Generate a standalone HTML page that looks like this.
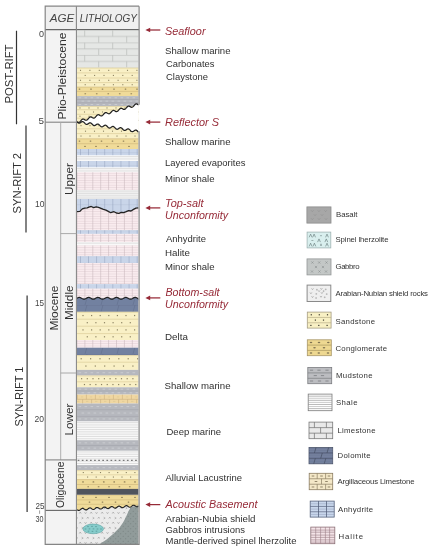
<!DOCTYPE html>
<html><head><meta charset="utf-8"><style>
html,body{margin:0;padding:0;background:#fff;overflow:hidden}
svg{display:block;will-change:transform}
text{font-family:"Liberation Sans",sans-serif}
</style></head><body>
<svg width="431" height="550" viewBox="0 0 431 550">
<defs>
<pattern id="lime" patternUnits="userSpaceOnUse" x="56.2" y="29.9" width="28" height="12.5">
 <rect width="28" height="12.5" fill="#e5e7e5"/>
 <path d="M0 0.3H28M0 6.55H28M0.5 0.3V6.55M14.5 6.55V12.5" stroke="#b9bbb9" stroke-width="0.7" fill="none"/>
</pattern>
<pattern id="anh" patternUnits="userSpaceOnUse" x="80" y="0" width="8.1" height="6.5">
 <rect width="8.1" height="6.5" fill="#c9d5e9"/>
 <path d="M0.3 0V6.5" stroke="#8e9cb8" stroke-width="0.6"/>
 <path d="M0 3.25H8.1" stroke="#8e9cb8" stroke-width="0.3" opacity="0.6"/>
</pattern>
<pattern id="hal" patternUnits="userSpaceOnUse" x="76.5" y="0" width="7.9" height="2.4">
 <rect width="7.9" height="2.4" fill="#f9ebee"/>
 <path d="M0 0.3H7.9" stroke="#dcc9ce" stroke-width="0.5"/>
 <path d="M0.3 0V2.4" stroke="#c6b3b9" stroke-width="0.6"/>
</pattern>
<pattern id="dol" patternUnits="userSpaceOnUse" x="77" y="298" width="16" height="7">
 <rect width="16" height="7" fill="#7281a0"/>
 <path d="M0 0.2H16" stroke="#5f6b88" stroke-width="0.4"/>
 <path d="M10 0L8 7" stroke="#5f6b88" stroke-width="0.5"/>
</pattern>
<pattern id="base" patternUnits="userSpaceOnUse" x="78" y="511" width="11" height="10">
 <rect width="11" height="10" fill="#ebebeb"/>
 <path d="M1.2 2.6l1-1.6l1 1.6M6.5 1.2l1 1.5l1-1.5M3.6 6.2l1.6 0.9l-1.6 0.9M8.8 7.6l1-1.6l1 1.6" stroke="#999999" stroke-width="0.6" fill="none"/>
</pattern>
<pattern id="gab" patternUnits="userSpaceOnUse" x="77" y="505" width="5" height="5">
 <rect width="5" height="5" fill="#909b9a"/>
 <circle cx="1.2" cy="1.2" r="0.55" fill="#77817f"/>
 <circle cx="3.7" cy="3.7" r="0.55" fill="#77817f"/>
</pattern>
<clipPath id="litho"><rect x="77.0" y="29.9" width="61.60" height="514.4"/></clipPath>
</defs>
<rect width="431" height="550" fill="#fff"/>

<rect x="45.2" y="6.2" width="93.9" height="23.4" fill="#efefef"/>
<rect x="45.2" y="29.6" width="30.2" height="480.8" fill="#f3f3f3"/>
<rect x="45.2" y="510.4" width="30.2" height="33.9" fill="#f3f3f3"/>
<path d="M45.2 29.6H139.1" stroke="#666" stroke-width="1.2"/>
<path d="M76.4 6.2V544.3" stroke="#858585" stroke-width="1.1"/>
<path d="M45.2 122.2H77" stroke="#858585" stroke-width="1.1"/>
<path d="M60.7 122.2V459.9" stroke="#a8a8a8" stroke-width="0.9"/>
<path d="M60.6 233.6H76.4M60.6 373H76.4" stroke="#a0a0a0" stroke-width="0.9"/>
<path d="M45.2 459.9H76.4" stroke="#858585" stroke-width="1.1"/>
<path d="M45.2 510.4H77" stroke="#666" stroke-width="1.1"/>
<path d="M16.5 30.8V124.3M26.0 125.4V232.6M27.1 295.4V512" stroke="#333" stroke-width="1.2"/><path d="M39.6 510.4V513.8" stroke="#777" stroke-width="0.7"/>
<g clip-path="url(#litho)"><rect x="77.0" y="29.9" width="61.60" height="37.90" fill="url(#lime)"/>
<rect x="77.0" y="67.80" width="61.60" height="19.00" fill="#f9f0c6"/><path d="M77.0 68.10H138.6" stroke="#d6c892" stroke-width="0.6"/><path d="M77.0 72.90H138.6" stroke="#d6c892" stroke-width="0.6"/><path d="M77.0 78.00H138.6" stroke="#d6c892" stroke-width="0.6"/><path d="M77.0 82.60H138.6" stroke="#d6c892" stroke-width="0.6"/><rect x="79.95" y="69.80" width="1.10" height="1.10" fill="#8b8262"/><rect x="89.35" y="69.80" width="1.10" height="1.10" fill="#8b8262"/><rect x="98.75" y="69.80" width="1.10" height="1.10" fill="#8b8262"/><rect x="108.15" y="69.80" width="1.10" height="1.10" fill="#8b8262"/><rect x="117.55" y="69.80" width="1.10" height="1.10" fill="#8b8262"/><rect x="126.95" y="69.80" width="1.10" height="1.10" fill="#8b8262"/><rect x="136.35" y="69.80" width="1.10" height="1.10" fill="#8b8262"/><rect x="84.65" y="74.90" width="1.10" height="1.10" fill="#8b8262"/><rect x="94.05" y="74.90" width="1.10" height="1.10" fill="#8b8262"/><rect x="103.45" y="74.90" width="1.10" height="1.10" fill="#8b8262"/><rect x="112.85" y="74.90" width="1.10" height="1.10" fill="#8b8262"/><rect x="122.25" y="74.90" width="1.10" height="1.10" fill="#8b8262"/><rect x="131.65" y="74.90" width="1.10" height="1.10" fill="#8b8262"/><rect x="79.95" y="79.75" width="1.10" height="1.10" fill="#8b8262"/><rect x="89.35" y="79.75" width="1.10" height="1.10" fill="#8b8262"/><rect x="98.75" y="79.75" width="1.10" height="1.10" fill="#8b8262"/><rect x="108.15" y="79.75" width="1.10" height="1.10" fill="#8b8262"/><rect x="117.55" y="79.75" width="1.10" height="1.10" fill="#8b8262"/><rect x="126.95" y="79.75" width="1.10" height="1.10" fill="#8b8262"/><rect x="136.35" y="79.75" width="1.10" height="1.10" fill="#8b8262"/><rect x="84.65" y="84.15" width="1.10" height="1.10" fill="#8b8262"/><rect x="94.05" y="84.15" width="1.10" height="1.10" fill="#8b8262"/><rect x="103.45" y="84.15" width="1.10" height="1.10" fill="#8b8262"/><rect x="112.85" y="84.15" width="1.10" height="1.10" fill="#8b8262"/><rect x="122.25" y="84.15" width="1.10" height="1.10" fill="#8b8262"/><rect x="131.65" y="84.15" width="1.10" height="1.10" fill="#8b8262"/>
<rect x="77.0" y="86.80" width="61.60" height="9.30" fill="#f0db99"/><path d="M77.0 87.10H138.6" stroke="#cdb678" stroke-width="0.6"/><path d="M77.0 91.40H138.6" stroke="#cdb678" stroke-width="0.6"/><ellipse cx="79.50" cy="89.10" rx="0.95" ry="0.6" fill="#857650"/><ellipse cx="91.00" cy="89.10" rx="0.95" ry="0.6" fill="#857650"/><ellipse cx="102.50" cy="89.10" rx="0.95" ry="0.6" fill="#857650"/><ellipse cx="114.00" cy="89.10" rx="0.95" ry="0.6" fill="#857650"/><ellipse cx="125.50" cy="89.10" rx="0.95" ry="0.6" fill="#857650"/><ellipse cx="137.00" cy="89.10" rx="0.95" ry="0.6" fill="#857650"/><ellipse cx="85.25" cy="93.75" rx="0.95" ry="0.6" fill="#857650"/><ellipse cx="96.75" cy="93.75" rx="0.95" ry="0.6" fill="#857650"/><ellipse cx="108.25" cy="93.75" rx="0.95" ry="0.6" fill="#857650"/><ellipse cx="119.75" cy="93.75" rx="0.95" ry="0.6" fill="#857650"/><ellipse cx="131.25" cy="93.75" rx="0.95" ry="0.6" fill="#857650"/>
<rect x="77.0" y="96.10" width="61.60" height="10.10" fill="#b6b8be"/><path d="M77.0 99.50H138.6" stroke="#a2a4ab" stroke-width="0.6"/><path d="M77.0 102.80H138.6" stroke="#a2a4ab" stroke-width="0.6"/><path d="M78.50 97.80h2.70M84.50 97.80h2.70M90.50 97.80h2.70M96.50 97.80h2.70M102.50 97.80h2.70M108.50 97.80h2.70M114.50 97.80h2.70M120.50 97.80h2.70M126.50 97.80h2.70M132.50 97.80h2.70M138.50 97.80h2.70" stroke="#d3d4d9" stroke-width="0.7"/><path d="M81.50 101.15h2.70M87.50 101.15h2.70M93.50 101.15h2.70M99.50 101.15h2.70M105.50 101.15h2.70M111.50 101.15h2.70M117.50 101.15h2.70M123.50 101.15h2.70M129.50 101.15h2.70M135.50 101.15h2.70" stroke="#d3d4d9" stroke-width="0.7"/><path d="M78.50 104.50h2.70M84.50 104.50h2.70M90.50 104.50h2.70M96.50 104.50h2.70M102.50 104.50h2.70M108.50 104.50h2.70M114.50 104.50h2.70M120.50 104.50h2.70M126.50 104.50h2.70M132.50 104.50h2.70M138.50 104.50h2.70" stroke="#d3d4d9" stroke-width="0.7"/>
<rect x="77.0" y="106.20" width="61.60" height="16.30" fill="#f9f0c6"/><path d="M77.0 106.50H138.6" stroke="#d6c892" stroke-width="0.6"/><path d="M77.0 109.70H138.6" stroke="#d6c892" stroke-width="0.6"/><path d="M77.0 114.30H138.6" stroke="#d6c892" stroke-width="0.6"/><path d="M77.0 118.20H138.6" stroke="#d6c892" stroke-width="0.6"/><rect x="79.45" y="107.40" width="1.10" height="1.10" fill="#8b8262"/><rect x="88.45" y="107.40" width="1.10" height="1.10" fill="#8b8262"/><rect x="97.45" y="107.40" width="1.10" height="1.10" fill="#8b8262"/><rect x="106.45" y="107.40" width="1.10" height="1.10" fill="#8b8262"/><rect x="115.45" y="107.40" width="1.10" height="1.10" fill="#8b8262"/><rect x="124.45" y="107.40" width="1.10" height="1.10" fill="#8b8262"/><rect x="133.45" y="107.40" width="1.10" height="1.10" fill="#8b8262"/><rect x="83.95" y="111.45" width="1.10" height="1.10" fill="#8b8262"/><rect x="92.95" y="111.45" width="1.10" height="1.10" fill="#8b8262"/><rect x="101.95" y="111.45" width="1.10" height="1.10" fill="#8b8262"/><rect x="110.95" y="111.45" width="1.10" height="1.10" fill="#8b8262"/><rect x="119.95" y="111.45" width="1.10" height="1.10" fill="#8b8262"/><rect x="128.95" y="111.45" width="1.10" height="1.10" fill="#8b8262"/><rect x="137.95" y="111.45" width="1.10" height="1.10" fill="#8b8262"/><rect x="79.45" y="115.70" width="1.10" height="1.10" fill="#8b8262"/><rect x="88.45" y="115.70" width="1.10" height="1.10" fill="#8b8262"/><rect x="97.45" y="115.70" width="1.10" height="1.10" fill="#8b8262"/><rect x="106.45" y="115.70" width="1.10" height="1.10" fill="#8b8262"/><rect x="115.45" y="115.70" width="1.10" height="1.10" fill="#8b8262"/><rect x="124.45" y="115.70" width="1.10" height="1.10" fill="#8b8262"/><rect x="133.45" y="115.70" width="1.10" height="1.10" fill="#8b8262"/><rect x="83.95" y="119.80" width="1.10" height="1.10" fill="#8b8262"/><rect x="92.95" y="119.80" width="1.10" height="1.10" fill="#8b8262"/><rect x="101.95" y="119.80" width="1.10" height="1.10" fill="#8b8262"/><rect x="110.95" y="119.80" width="1.10" height="1.10" fill="#8b8262"/><rect x="119.95" y="119.80" width="1.10" height="1.10" fill="#8b8262"/><rect x="128.95" y="119.80" width="1.10" height="1.10" fill="#8b8262"/><rect x="137.95" y="119.80" width="1.10" height="1.10" fill="#8b8262"/>
<rect x="77.0" y="122.50" width="61.60" height="16.00" fill="#f9f0c6"/><path d="M77.0 128.80H138.6" stroke="#d6c892" stroke-width="0.6"/><path d="M77.0 133.60H138.6" stroke="#d6c892" stroke-width="0.6"/><rect x="80.45" y="125.10" width="1.10" height="1.10" fill="#8b8262"/><rect x="89.45" y="125.10" width="1.10" height="1.10" fill="#8b8262"/><rect x="98.45" y="125.10" width="1.10" height="1.10" fill="#8b8262"/><rect x="107.45" y="125.10" width="1.10" height="1.10" fill="#8b8262"/><rect x="116.45" y="125.10" width="1.10" height="1.10" fill="#8b8262"/><rect x="125.45" y="125.10" width="1.10" height="1.10" fill="#8b8262"/><rect x="134.45" y="125.10" width="1.10" height="1.10" fill="#8b8262"/><rect x="84.95" y="130.65" width="1.10" height="1.10" fill="#8b8262"/><rect x="93.95" y="130.65" width="1.10" height="1.10" fill="#8b8262"/><rect x="102.95" y="130.65" width="1.10" height="1.10" fill="#8b8262"/><rect x="111.95" y="130.65" width="1.10" height="1.10" fill="#8b8262"/><rect x="120.95" y="130.65" width="1.10" height="1.10" fill="#8b8262"/><rect x="129.95" y="130.65" width="1.10" height="1.10" fill="#8b8262"/><rect x="80.45" y="135.50" width="1.10" height="1.10" fill="#8b8262"/><rect x="89.45" y="135.50" width="1.10" height="1.10" fill="#8b8262"/><rect x="98.45" y="135.50" width="1.10" height="1.10" fill="#8b8262"/><rect x="107.45" y="135.50" width="1.10" height="1.10" fill="#8b8262"/><rect x="116.45" y="135.50" width="1.10" height="1.10" fill="#8b8262"/><rect x="125.45" y="135.50" width="1.10" height="1.10" fill="#8b8262"/><rect x="134.45" y="135.50" width="1.10" height="1.10" fill="#8b8262"/>
<rect x="77.0" y="138.50" width="61.60" height="10.50" fill="#f0db99"/><path d="M77.0 138.80H138.6" stroke="#cdb678" stroke-width="0.6"/><path d="M77.0 143.70H138.6" stroke="#cdb678" stroke-width="0.6"/><ellipse cx="79.50" cy="141.10" rx="0.95" ry="0.6" fill="#857650"/><ellipse cx="90.50" cy="141.10" rx="0.95" ry="0.6" fill="#857650"/><ellipse cx="101.50" cy="141.10" rx="0.95" ry="0.6" fill="#857650"/><ellipse cx="112.50" cy="141.10" rx="0.95" ry="0.6" fill="#857650"/><ellipse cx="123.50" cy="141.10" rx="0.95" ry="0.6" fill="#857650"/><ellipse cx="134.50" cy="141.10" rx="0.95" ry="0.6" fill="#857650"/><ellipse cx="85.00" cy="146.35" rx="0.95" ry="0.6" fill="#857650"/><ellipse cx="96.00" cy="146.35" rx="0.95" ry="0.6" fill="#857650"/><ellipse cx="107.00" cy="146.35" rx="0.95" ry="0.6" fill="#857650"/><ellipse cx="118.00" cy="146.35" rx="0.95" ry="0.6" fill="#857650"/><ellipse cx="129.00" cy="146.35" rx="0.95" ry="0.6" fill="#857650"/>
<rect x="77.0" y="149.0" width="61.60" height="6.50" fill="url(#anh)"/>
<rect x="77.0" y="155.50" width="61.60" height="5.50" fill="#f9f9f9"/><path d="M77.0 156.65H138.6M77.0 158.95H138.6" stroke="#d7d7d7" stroke-width="0.8"/>
<rect x="77.0" y="161.0" width="61.60" height="6.50" fill="url(#anh)"/>
<rect x="77.0" y="167.50" width="61.60" height="4.70" fill="#f9f9f9"/><path d="M77.0 168.65H138.6M77.0 170.95H138.6" stroke="#d7d7d7" stroke-width="0.8"/>
<rect x="77.0" y="172.2" width="61.60" height="17.80" fill="url(#hal)"/>
<rect x="77.0" y="190.00" width="61.60" height="9.00" fill="#f0f0f0"/><path d="M77.0 191.15H138.6M77.0 193.45H138.6M77.0 195.75H138.6M77.0 198.05H138.6" stroke="#dcdcdc" stroke-width="0.8"/>
<rect x="77.0" y="199.0" width="61.60" height="13.00" fill="url(#anh)"/>
<rect x="77.0" y="212.0" width="61.60" height="18.20" fill="url(#hal)"/>
<rect x="77.0" y="230.2" width="61.60" height="3.70" fill="url(#anh)"/>
<rect x="77.0" y="233.9" width="61.60" height="8.10" fill="url(#hal)"/>
<rect x="77.0" y="242.00" width="61.60" height="3.30" fill="#f9f9f9"/><path d="M77.0 243.15H138.6" stroke="#d7d7d7" stroke-width="0.8"/>
<rect x="77.0" y="245.3" width="61.60" height="10.90" fill="url(#hal)"/>
<rect x="77.0" y="256.2" width="61.60" height="6.80" fill="url(#anh)"/>
<rect x="77.0" y="263.0" width="61.60" height="21.10" fill="url(#hal)"/>
<rect x="77.0" y="284.1" width="61.60" height="4.60" fill="url(#anh)"/>
<rect x="77.0" y="288.7" width="61.60" height="9.80" fill="url(#hal)"/>
<rect x="77.0" y="298.5" width="61.60" height="13.40" fill="url(#dol)"/>
<rect x="77.0" y="311.90" width="61.60" height="28.10" fill="#f9f0c6"/><path d="M77.0 312.20H138.6" stroke="#d6c892" stroke-width="0.6"/><path d="M77.0 319.20H138.6" stroke="#d6c892" stroke-width="0.6"/><path d="M77.0 326.20H138.6" stroke="#d6c892" stroke-width="0.6"/><path d="M77.0 333.60H138.6" stroke="#d6c892" stroke-width="0.6"/><rect x="82.40" y="314.95" width="1.20" height="1.20" fill="#8b8262"/><rect x="91.00" y="314.95" width="1.20" height="1.20" fill="#8b8262"/><rect x="99.60" y="314.95" width="1.20" height="1.20" fill="#8b8262"/><rect x="108.20" y="314.95" width="1.20" height="1.20" fill="#8b8262"/><rect x="116.80" y="314.95" width="1.20" height="1.20" fill="#8b8262"/><rect x="125.40" y="314.95" width="1.20" height="1.20" fill="#8b8262"/><rect x="134.00" y="314.95" width="1.20" height="1.20" fill="#8b8262"/><rect x="86.70" y="322.10" width="1.20" height="1.20" fill="#8b8262"/><rect x="95.30" y="322.10" width="1.20" height="1.20" fill="#8b8262"/><rect x="103.90" y="322.10" width="1.20" height="1.20" fill="#8b8262"/><rect x="112.50" y="322.10" width="1.20" height="1.20" fill="#8b8262"/><rect x="121.10" y="322.10" width="1.20" height="1.20" fill="#8b8262"/><rect x="129.70" y="322.10" width="1.20" height="1.20" fill="#8b8262"/><rect x="82.40" y="329.30" width="1.20" height="1.20" fill="#8b8262"/><rect x="91.00" y="329.30" width="1.20" height="1.20" fill="#8b8262"/><rect x="99.60" y="329.30" width="1.20" height="1.20" fill="#8b8262"/><rect x="108.20" y="329.30" width="1.20" height="1.20" fill="#8b8262"/><rect x="116.80" y="329.30" width="1.20" height="1.20" fill="#8b8262"/><rect x="125.40" y="329.30" width="1.20" height="1.20" fill="#8b8262"/><rect x="134.00" y="329.30" width="1.20" height="1.20" fill="#8b8262"/><rect x="86.70" y="336.20" width="1.20" height="1.20" fill="#8b8262"/><rect x="95.30" y="336.20" width="1.20" height="1.20" fill="#8b8262"/><rect x="103.90" y="336.20" width="1.20" height="1.20" fill="#8b8262"/><rect x="112.50" y="336.20" width="1.20" height="1.20" fill="#8b8262"/><rect x="121.10" y="336.20" width="1.20" height="1.20" fill="#8b8262"/><rect x="129.70" y="336.20" width="1.20" height="1.20" fill="#8b8262"/>
<rect x="77.0" y="340.0" width="61.60" height="7.70" fill="url(#hal)"/>
<rect x="77.0" y="347.7" width="61.60" height="7.60" fill="url(#dol)"/>
<rect x="77.0" y="355.30" width="61.60" height="14.60" fill="#f9f0c6"/><path d="M77.0 355.60H138.6" stroke="#d6c892" stroke-width="0.6"/><path d="M77.0 362.20H138.6" stroke="#d6c892" stroke-width="0.6"/><rect x="80.60" y="358.15" width="1.20" height="1.20" fill="#8b8262"/><rect x="90.00" y="358.15" width="1.20" height="1.20" fill="#8b8262"/><rect x="99.40" y="358.15" width="1.20" height="1.20" fill="#8b8262"/><rect x="108.80" y="358.15" width="1.20" height="1.20" fill="#8b8262"/><rect x="118.20" y="358.15" width="1.20" height="1.20" fill="#8b8262"/><rect x="127.60" y="358.15" width="1.20" height="1.20" fill="#8b8262"/><rect x="137.00" y="358.15" width="1.20" height="1.20" fill="#8b8262"/><rect x="85.30" y="365.45" width="1.20" height="1.20" fill="#8b8262"/><rect x="94.70" y="365.45" width="1.20" height="1.20" fill="#8b8262"/><rect x="104.10" y="365.45" width="1.20" height="1.20" fill="#8b8262"/><rect x="113.50" y="365.45" width="1.20" height="1.20" fill="#8b8262"/><rect x="122.90" y="365.45" width="1.20" height="1.20" fill="#8b8262"/><rect x="132.30" y="365.45" width="1.20" height="1.20" fill="#8b8262"/>
<rect x="77.0" y="369.90" width="61.60" height="5.70" fill="#b6b8be"/><path d="M78.50 372.75h2.70M84.50 372.75h2.70M90.50 372.75h2.70M96.50 372.75h2.70M102.50 372.75h2.70M108.50 372.75h2.70M114.50 372.75h2.70M120.50 372.75h2.70M126.50 372.75h2.70M132.50 372.75h2.70M138.50 372.75h2.70" stroke="#d3d4d9" stroke-width="0.7"/>
<rect x="77.0" y="375.60" width="61.60" height="11.70" fill="#f9f0c6"/><path d="M77.0 375.90H138.6" stroke="#d6c892" stroke-width="0.6"/><path d="M77.0 381.80H138.6" stroke="#d6c892" stroke-width="0.6"/><rect x="81.00" y="378.10" width="1.20" height="1.20" fill="#8b8262"/><rect x="86.70" y="378.10" width="1.20" height="1.20" fill="#8b8262"/><rect x="92.40" y="378.10" width="1.20" height="1.20" fill="#8b8262"/><rect x="98.10" y="378.10" width="1.20" height="1.20" fill="#8b8262"/><rect x="103.80" y="378.10" width="1.20" height="1.20" fill="#8b8262"/><rect x="109.50" y="378.10" width="1.20" height="1.20" fill="#8b8262"/><rect x="115.20" y="378.10" width="1.20" height="1.20" fill="#8b8262"/><rect x="120.90" y="378.10" width="1.20" height="1.20" fill="#8b8262"/><rect x="126.60" y="378.10" width="1.20" height="1.20" fill="#8b8262"/><rect x="132.30" y="378.10" width="1.20" height="1.20" fill="#8b8262"/><rect x="83.85" y="383.95" width="1.20" height="1.20" fill="#8b8262"/><rect x="89.55" y="383.95" width="1.20" height="1.20" fill="#8b8262"/><rect x="95.25" y="383.95" width="1.20" height="1.20" fill="#8b8262"/><rect x="100.95" y="383.95" width="1.20" height="1.20" fill="#8b8262"/><rect x="106.65" y="383.95" width="1.20" height="1.20" fill="#8b8262"/><rect x="112.35" y="383.95" width="1.20" height="1.20" fill="#8b8262"/><rect x="118.05" y="383.95" width="1.20" height="1.20" fill="#8b8262"/><rect x="123.75" y="383.95" width="1.20" height="1.20" fill="#8b8262"/><rect x="129.45" y="383.95" width="1.20" height="1.20" fill="#8b8262"/><rect x="135.15" y="383.95" width="1.20" height="1.20" fill="#8b8262"/>
<rect x="77.0" y="387.30" width="61.60" height="7.30" fill="#b6b8be"/><path d="M77.0 391.00H138.6" stroke="#a2a4ab" stroke-width="0.6"/><path d="M78.50 389.15h2.70M84.50 389.15h2.70M90.50 389.15h2.70M96.50 389.15h2.70M102.50 389.15h2.70M108.50 389.15h2.70M114.50 389.15h2.70M120.50 389.15h2.70M126.50 389.15h2.70M132.50 389.15h2.70M138.50 389.15h2.70" stroke="#d3d4d9" stroke-width="0.7"/><path d="M81.50 392.80h2.70M87.50 392.80h2.70M93.50 392.80h2.70M99.50 392.80h2.70M105.50 392.80h2.70M111.50 392.80h2.70M117.50 392.80h2.70M123.50 392.80h2.70M129.50 392.80h2.70M135.50 392.80h2.70" stroke="#d3d4d9" stroke-width="0.7"/>
<rect x="77.0" y="394.60" width="61.60" height="8.90" fill="#f0d7a2"/><path d="M77.0 399.30H138.6" stroke="#c9ae80" stroke-width="0.6"/><path d="M77.40 394.60V399.30M86.40 394.60V399.30M95.40 394.60V399.30M104.40 394.60V399.30M113.40 394.60V399.30M122.40 394.60V399.30M131.40 394.60V399.30M82.60 399.30V403.50M91.60 399.30V403.50M100.60 399.30V403.50M109.60 399.30V403.50M118.60 399.30V403.50M127.60 399.30V403.50M136.60 399.30V403.50" stroke="#c9ae80" stroke-width="0.6"/><path d="M80.80 396.95h2.4M89.80 396.95h2.4M98.80 396.95h2.4M107.80 396.95h2.4M116.80 396.95h2.4M125.80 396.95h2.4M134.80 396.95h2.4M77.00 401.40h2.4M86.00 401.40h2.4M95.00 401.40h2.4M104.00 401.40h2.4M113.00 401.40h2.4M122.00 401.40h2.4M131.00 401.40h2.4" stroke="#dcc894" stroke-width="0.7"/>
<rect x="77.0" y="403.50" width="61.60" height="18.00" fill="#b6b8be"/><path d="M77.0 409.70H138.6" stroke="#a2a4ab" stroke-width="0.6"/><path d="M77.0 416.40H138.6" stroke="#a2a4ab" stroke-width="0.6"/><path d="M78.50 406.60h2.70M84.50 406.60h2.70M90.50 406.60h2.70M96.50 406.60h2.70M102.50 406.60h2.70M108.50 406.60h2.70M114.50 406.60h2.70M120.50 406.60h2.70M126.50 406.60h2.70M132.50 406.60h2.70M138.50 406.60h2.70" stroke="#d3d4d9" stroke-width="0.7"/><path d="M81.50 413.05h2.70M87.50 413.05h2.70M93.50 413.05h2.70M99.50 413.05h2.70M105.50 413.05h2.70M111.50 413.05h2.70M117.50 413.05h2.70M123.50 413.05h2.70M129.50 413.05h2.70M135.50 413.05h2.70" stroke="#d3d4d9" stroke-width="0.7"/><path d="M78.50 418.95h2.70M84.50 418.95h2.70M90.50 418.95h2.70M96.50 418.95h2.70M102.50 418.95h2.70M108.50 418.95h2.70M114.50 418.95h2.70M120.50 418.95h2.70M126.50 418.95h2.70M132.50 418.95h2.70M138.50 418.95h2.70" stroke="#d3d4d9" stroke-width="0.7"/>
<rect x="77.0" y="421.50" width="61.60" height="18.70" fill="#f9f9f9"/><path d="M77.0 422.65H138.6M77.0 424.95H138.6M77.0 427.25H138.6M77.0 429.55H138.6M77.0 431.85H138.6M77.0 434.15H138.6M77.0 436.45H138.6M77.0 438.75H138.6" stroke="#d7d7d7" stroke-width="0.8"/>
<rect x="77.0" y="440.20" width="61.60" height="10.60" fill="#b6b8be"/><path d="M77.0 445.50H138.6" stroke="#a2a4ab" stroke-width="0.6"/><path d="M78.50 442.85h2.70M84.50 442.85h2.70M90.50 442.85h2.70M96.50 442.85h2.70M102.50 442.85h2.70M108.50 442.85h2.70M114.50 442.85h2.70M120.50 442.85h2.70M126.50 442.85h2.70M132.50 442.85h2.70M138.50 442.85h2.70" stroke="#d3d4d9" stroke-width="0.7"/><path d="M81.50 448.15h2.70M87.50 448.15h2.70M93.50 448.15h2.70M99.50 448.15h2.70M105.50 448.15h2.70M111.50 448.15h2.70M117.50 448.15h2.70M123.50 448.15h2.70M129.50 448.15h2.70M135.50 448.15h2.70" stroke="#d3d4d9" stroke-width="0.7"/>
<rect x="77.0" y="450.80" width="61.60" height="14.30" fill="#f9f9f9"/><path d="M77.0 451.95H138.6M77.0 454.25H138.6M77.0 456.55H138.6M77.0 458.85H138.6M77.0 461.15H138.6M77.0 463.45H138.6" stroke="#d7d7d7" stroke-width="0.8"/>
<rect x="77.0" y="465.10" width="61.60" height="5.20" fill="#b6b8be"/><path d="M78.50 467.70h2.70M84.50 467.70h2.70M90.50 467.70h2.70M96.50 467.70h2.70M102.50 467.70h2.70M108.50 467.70h2.70M114.50 467.70h2.70M120.50 467.70h2.70M126.50 467.70h2.70M132.50 467.70h2.70M138.50 467.70h2.70" stroke="#d3d4d9" stroke-width="0.7"/>
<rect x="77.0" y="470.30" width="61.60" height="9.00" fill="#f9f0c6"/><path d="M77.0 470.60H138.6" stroke="#d6c892" stroke-width="0.6"/><path d="M77.0 474.80H138.6" stroke="#d6c892" stroke-width="0.6"/><rect x="82.75" y="472.00" width="1.10" height="1.10" fill="#8b8262"/><rect x="91.35" y="472.00" width="1.10" height="1.10" fill="#8b8262"/><rect x="99.95" y="472.00" width="1.10" height="1.10" fill="#8b8262"/><rect x="108.55" y="472.00" width="1.10" height="1.10" fill="#8b8262"/><rect x="117.15" y="472.00" width="1.10" height="1.10" fill="#8b8262"/><rect x="125.75" y="472.00" width="1.10" height="1.10" fill="#8b8262"/><rect x="134.35" y="472.00" width="1.10" height="1.10" fill="#8b8262"/><rect x="87.05" y="476.50" width="1.10" height="1.10" fill="#8b8262"/><rect x="95.65" y="476.50" width="1.10" height="1.10" fill="#8b8262"/><rect x="104.25" y="476.50" width="1.10" height="1.10" fill="#8b8262"/><rect x="112.85" y="476.50" width="1.10" height="1.10" fill="#8b8262"/><rect x="121.45" y="476.50" width="1.10" height="1.10" fill="#8b8262"/><rect x="130.05" y="476.50" width="1.10" height="1.10" fill="#8b8262"/>
<rect x="77.0" y="479.30" width="61.60" height="9.70" fill="#f0db99"/><path d="M77.0 479.60H138.6" stroke="#cdb678" stroke-width="0.6"/><path d="M77.0 484.50H138.6" stroke="#cdb678" stroke-width="0.6"/><ellipse cx="83.00" cy="481.90" rx="0.95" ry="0.6" fill="#857650"/><ellipse cx="93.40" cy="481.90" rx="0.95" ry="0.6" fill="#857650"/><ellipse cx="103.80" cy="481.90" rx="0.95" ry="0.6" fill="#857650"/><ellipse cx="114.20" cy="481.90" rx="0.95" ry="0.6" fill="#857650"/><ellipse cx="124.60" cy="481.90" rx="0.95" ry="0.6" fill="#857650"/><ellipse cx="135.00" cy="481.90" rx="0.95" ry="0.6" fill="#857650"/><ellipse cx="88.20" cy="486.75" rx="0.95" ry="0.6" fill="#857650"/><ellipse cx="98.60" cy="486.75" rx="0.95" ry="0.6" fill="#857650"/><ellipse cx="109.00" cy="486.75" rx="0.95" ry="0.6" fill="#857650"/><ellipse cx="119.40" cy="486.75" rx="0.95" ry="0.6" fill="#857650"/><ellipse cx="129.80" cy="486.75" rx="0.95" ry="0.6" fill="#857650"/>
<rect x="77.0" y="494.70" width="61.60" height="17.30" fill="#f0db99"/><path d="M77.0 495.00H138.6" stroke="#cdb678" stroke-width="0.6"/><path d="M77.0 499.90H138.6" stroke="#cdb678" stroke-width="0.6"/><path d="M77.0 504.30H138.6" stroke="#cdb678" stroke-width="0.6"/><ellipse cx="83.00" cy="497.30" rx="0.95" ry="0.6" fill="#857650"/><ellipse cx="96.00" cy="497.30" rx="0.95" ry="0.6" fill="#857650"/><ellipse cx="109.00" cy="497.30" rx="0.95" ry="0.6" fill="#857650"/><ellipse cx="122.00" cy="497.30" rx="0.95" ry="0.6" fill="#857650"/><ellipse cx="135.00" cy="497.30" rx="0.95" ry="0.6" fill="#857650"/><ellipse cx="89.50" cy="502.10" rx="0.95" ry="0.6" fill="#857650"/><ellipse cx="102.50" cy="502.10" rx="0.95" ry="0.6" fill="#857650"/><ellipse cx="115.50" cy="502.10" rx="0.95" ry="0.6" fill="#857650"/><ellipse cx="128.50" cy="502.10" rx="0.95" ry="0.6" fill="#857650"/><ellipse cx="83.00" cy="508.15" rx="0.95" ry="0.6" fill="#857650"/><ellipse cx="96.00" cy="508.15" rx="0.95" ry="0.6" fill="#857650"/><ellipse cx="109.00" cy="508.15" rx="0.95" ry="0.6" fill="#857650"/><ellipse cx="122.00" cy="508.15" rx="0.95" ry="0.6" fill="#857650"/><ellipse cx="135.00" cy="508.15" rx="0.95" ry="0.6" fill="#857650"/>
<rect x="77.0" y="488.9" width="61.60" height="5.80" fill="#51555d"/>
<polygon points="77.00,211.70 79.90,211.40 82.30,208.90 84.70,208.10 87.20,207.80 89.60,206.80 91.20,206.50 93.70,207.60 96.10,206.80 98.50,207.30 101.00,208.40 103.40,209.40 105.90,210.10 108.30,211.40 110.70,212.70 114.00,211.70 116.40,213.00 118.90,213.30 121.30,212.30 123.70,212.70 126.20,211.70 128.60,210.60 131.00,211.00 133.50,209.40 135.90,208.10 138.60,207.80 138.6,214 77,214" fill="url(#hal)"/>
<polygon points="77.00,298.30 77.50,298.00 78.00,297.74 78.50,297.54 79.00,297.42 79.50,297.41 80.00,297.49 80.51,297.67 81.01,297.92 81.51,298.21 82.01,298.52 82.51,298.79 83.01,299.02 83.51,299.16 84.01,299.20 84.51,299.14 85.01,298.99 85.51,298.76 86.01,298.47 86.52,298.17 87.02,297.88 87.52,297.64 88.02,297.47 88.52,297.40 89.02,297.43 89.52,297.56 90.02,297.77 90.52,298.04 91.02,298.34 91.52,298.64 92.02,298.90 92.53,299.09 93.03,299.19 93.53,299.19 94.03,299.09 94.53,298.90 95.03,298.64 95.53,298.34 96.03,298.04 96.53,297.77 97.03,297.56 97.53,297.43 98.03,297.40 98.53,297.48 99.04,297.64 99.54,297.88 100.04,298.17 100.54,298.47 101.04,298.76 101.54,298.99 102.04,299.14 102.54,299.20 103.04,299.16 103.54,299.01 104.04,298.79 104.54,298.51 105.05,298.21 105.55,297.92 106.05,297.67 106.55,297.49 107.05,297.41 107.55,297.42 108.05,297.54 108.55,297.74 109.05,298.00 109.55,298.30 110.05,298.60 110.55,298.86 111.06,299.07 111.56,299.18 112.06,299.19 112.56,299.11 113.06,298.93 113.56,298.68 114.06,298.38 114.56,298.08 115.06,297.81 115.56,297.58 116.06,297.44 116.56,297.40 117.07,297.46 117.57,297.61 118.07,297.85 118.57,298.13 119.07,298.43 119.57,298.72 120.07,298.96 120.57,299.13 121.07,299.20 121.57,299.17 122.07,299.04 122.57,298.83 123.07,298.56 123.58,298.25 124.08,297.96 124.58,297.70 125.08,297.51 125.58,297.41 126.08,297.41 126.58,297.51 127.08,297.71 127.58,297.96 128.08,298.26 128.58,298.56 129.08,298.83 129.59,299.04 130.09,299.17 130.59,299.20 131.09,299.12 131.59,298.96 132.09,298.72 132.59,298.43 133.09,298.12 133.59,297.84 134.09,297.61 134.59,297.46 135.09,297.40 135.60,297.45 136.10,297.59 136.60,297.81 137.10,298.09 137.60,298.39 138.10,298.68 138.60,298.93 138.6,300.5 77,300.5" fill="url(#dol)"/>
<polygon points="77.00,121.80 77.50,122.10 78.00,122.33 78.50,122.41 79.00,122.33 79.50,122.05 80.00,121.62 80.51,121.07 81.01,120.47 81.51,119.91 82.01,119.45 82.51,119.15 83.01,119.03 83.51,119.09 84.01,119.29 84.51,119.59 85.01,119.89 85.51,120.14 86.01,120.25 86.52,120.20 87.02,119.96 87.52,119.55 88.02,119.01 88.52,118.42 89.02,117.85 89.52,117.36 90.02,117.03 90.52,116.88 91.02,116.91 91.52,117.09 92.02,117.37 92.53,117.68 93.03,117.94 93.53,118.08 94.03,118.06 94.53,117.85 95.03,117.47 95.53,116.95 96.03,116.37 96.53,115.78 97.03,115.28 97.53,114.92 98.03,114.73 98.53,114.73 99.04,114.89 99.54,115.16 100.04,115.47 100.54,115.74 101.04,115.91 101.54,115.92 102.04,115.74 102.54,115.39 103.04,114.89 103.54,114.31 104.04,113.72 104.54,113.20 105.05,112.81 105.55,112.59 106.05,112.56 106.55,112.69 107.05,112.95 107.55,113.26 108.05,113.54 108.55,113.73 109.05,113.77 109.55,113.63 110.05,113.30 110.55,112.83 111.06,112.26 111.56,111.66 112.06,111.12 112.56,110.71 113.06,110.46 113.56,110.39 114.06,110.50 114.56,110.74 115.06,111.04 115.56,111.34 116.06,111.55 116.56,111.62 117.07,111.51 117.57,111.21 118.07,110.76 118.57,110.20 119.07,109.61 119.57,109.05 120.07,108.61 120.57,108.33 121.07,108.23 121.57,108.31 122.07,108.53 122.57,108.83 123.07,109.13 123.58,109.36 124.08,109.46 124.58,109.38 125.08,109.12 125.58,108.69 126.08,108.14 126.58,107.55 127.08,106.99 127.58,106.52 128.08,106.21 128.58,106.08 129.08,106.13 129.59,106.33 130.09,106.62 130.59,106.92 131.09,107.17 131.59,107.30 132.09,107.25 132.59,107.02 133.09,106.62 133.59,106.09 134.09,105.50 134.59,104.92 135.09,104.43 135.60,104.09 136.10,103.93 136.60,103.95 137.10,104.12 137.60,104.40 138.10,104.71 138.60,104.98 139.50,104.50 139.50,131.50 138.60,132.28 138.10,131.79 137.60,131.26 137.10,130.76 136.60,130.36 136.10,130.12 135.60,130.06 135.09,130.18 134.59,130.44 134.09,130.80 133.59,131.17 133.09,131.47 132.59,131.65 132.09,131.66 131.59,131.49 131.09,131.14 130.59,130.67 130.09,130.14 129.59,129.63 129.08,129.21 128.58,128.94 128.08,128.84 127.58,128.94 127.08,129.18 126.58,129.52 126.08,129.90 125.58,130.22 125.08,130.43 124.58,130.47 124.08,130.32 123.58,130.00 123.07,129.55 122.57,129.03 122.07,128.51 121.57,128.06 121.07,127.76 120.57,127.64 120.07,127.70 119.57,127.92 119.07,128.25 118.57,128.62 118.07,128.96 117.57,129.19 117.07,129.26 116.56,129.15 116.06,128.86 115.56,128.43 115.06,127.91 114.56,127.39 114.06,126.92 113.56,126.59 113.06,126.44 112.56,126.47 112.06,126.66 111.56,126.98 111.06,127.35 110.55,127.70 110.05,127.95 109.55,128.05 109.05,127.98 108.55,127.72 108.05,127.30 107.55,126.80 107.05,126.27 106.55,125.79 106.05,125.43 105.55,125.24 105.05,125.24 104.54,125.41 104.04,125.71 103.54,126.07 103.04,126.43 102.54,126.71 102.04,126.84 101.54,126.79 101.04,126.56 100.54,126.18 100.04,125.68 99.54,125.15 99.04,124.66 98.53,124.27 98.03,124.05 97.53,124.02 97.03,124.16 96.53,124.44 96.03,124.80 95.53,125.16 95.03,125.46 94.53,125.62 94.03,125.61 93.53,125.41 93.03,125.04 92.53,124.56 92.02,124.03 91.52,123.53 91.02,123.12 90.52,122.87 90.02,122.80 89.52,122.91 89.02,123.17 88.52,123.52 88.02,123.89 87.52,124.21 87.02,124.39 86.52,124.41 86.01,124.25 85.51,123.91 85.01,123.44 84.51,122.92 84.01,122.40 83.51,121.97 83.01,121.69 82.51,121.59 82.01,121.67 81.51,121.91 81.01,122.25 80.51,122.62 80.00,122.95 79.50,123.16 79.00,123.21 78.50,123.08 78.00,122.77 77.50,122.32 77.00,121.80" fill="#ffffff"/>
<polygon points="77.00,509.60 77.50,509.95 78.00,510.22 78.50,510.37 79.00,510.37 79.50,510.20 80.00,509.89 80.51,509.50 81.01,509.08 81.51,508.72 82.01,508.46 82.51,508.36 83.01,508.42 83.51,508.63 84.01,508.95 84.51,509.30 85.01,509.62 85.51,509.85 86.01,509.94 86.52,509.86 87.02,509.63 87.52,509.28 88.02,508.87 88.52,508.47 89.02,508.14 89.52,507.95 90.02,507.92 90.52,508.05 91.02,508.31 91.52,508.64 92.02,508.99 92.53,509.29 93.03,509.46 93.53,509.48 94.03,509.33 94.53,509.04 95.03,508.66 95.53,508.24 96.03,507.87 96.53,507.59 97.03,507.46 97.53,507.50 98.03,507.69 98.53,507.99 99.04,508.35 99.54,508.68 100.04,508.93 100.54,509.04 101.04,508.98 101.54,508.77 102.04,508.44 102.54,508.03 103.04,507.62 103.54,507.28 104.04,507.07 104.54,507.01 105.05,507.12 105.55,507.36 106.05,507.69 106.55,508.04 107.05,508.35 107.55,508.54 108.05,508.58 108.55,508.46 109.05,508.19 109.55,507.82 110.05,507.40 110.55,507.02 111.06,506.72 111.56,506.57 112.06,506.59 112.56,506.75 113.06,507.04 113.56,507.39 114.06,507.73 114.56,508.00 115.06,508.13 115.56,508.10 116.06,507.91 116.56,507.59 117.07,507.19 117.57,506.78 118.07,506.43 118.57,506.19 119.07,506.11 119.57,506.19 120.07,506.41 120.57,506.74 121.07,507.09 121.57,507.41 122.07,507.62 122.57,507.69 123.07,507.59 123.58,507.34 124.08,506.98 124.58,506.57 125.08,506.17 125.58,505.86 126.08,505.69 126.58,505.67 127.08,505.82 127.58,506.09 128.08,506.44 128.58,506.78 129.08,507.06 129.59,507.22 130.09,507.22 130.59,507.05 131.09,506.75 131.59,506.36 132.09,505.94 132.59,505.58 133.09,505.32 133.59,505.21 134.09,505.27 134.59,505.47 135.09,505.78 135.60,506.14 136.10,506.46 136.60,506.70 137.10,506.79 137.60,506.72 138.10,506.49 138.60,506.14 138.6,545 77,545" fill="url(#base)"/>
<polygon points="99.60,544.30 106.60,539.40 113.60,533.60 119.40,527.80 123.40,522.00 126.30,516.20 128.60,511.00 130.40,508.10 133.30,506.40 137.90,505.20 138.60,505.10 138.60,544.30" fill="url(#gab)"/>
<ellipse cx="93.2" cy="528.9" rx="10.3" ry="4.8" fill="#86cccb" stroke="#5aa3a3" stroke-width="0.6"/>
<path d="M87.20 526.60h1.6M91.20 526.40h1.6M95.20 526.60h1.6M84.70 529.00h1.6M88.70 528.90h1.6M92.70 528.90h1.6M96.70 529.00h1.6M100.20 529.00h1.6M87.70 531.20h1.6M91.70 531.40h1.6M95.70 531.20h1.6" stroke="#4d8e8e" stroke-width="0.7"/>
<path d="M77.7 460.4H138.6" stroke="#777" stroke-width="1.1" stroke-dasharray="1.7 2.4"/><polyline points="77.00,121.80 77.50,122.10 78.00,122.33 78.50,122.41 79.00,122.33 79.50,122.05 80.00,121.62 80.51,121.07 81.01,120.47 81.51,119.91 82.01,119.45 82.51,119.15 83.01,119.03 83.51,119.09 84.01,119.29 84.51,119.59 85.01,119.89 85.51,120.14 86.01,120.25 86.52,120.20 87.02,119.96 87.52,119.55 88.02,119.01 88.52,118.42 89.02,117.85 89.52,117.36 90.02,117.03 90.52,116.88 91.02,116.91 91.52,117.09 92.02,117.37 92.53,117.68 93.03,117.94 93.53,118.08 94.03,118.06 94.53,117.85 95.03,117.47 95.53,116.95 96.03,116.37 96.53,115.78 97.03,115.28 97.53,114.92 98.03,114.73 98.53,114.73 99.04,114.89 99.54,115.16 100.04,115.47 100.54,115.74 101.04,115.91 101.54,115.92 102.04,115.74 102.54,115.39 103.04,114.89 103.54,114.31 104.04,113.72 104.54,113.20 105.05,112.81 105.55,112.59 106.05,112.56 106.55,112.69 107.05,112.95 107.55,113.26 108.05,113.54 108.55,113.73 109.05,113.77 109.55,113.63 110.05,113.30 110.55,112.83 111.06,112.26 111.56,111.66 112.06,111.12 112.56,110.71 113.06,110.46 113.56,110.39 114.06,110.50 114.56,110.74 115.06,111.04 115.56,111.34 116.06,111.55 116.56,111.62 117.07,111.51 117.57,111.21 118.07,110.76 118.57,110.20 119.07,109.61 119.57,109.05 120.07,108.61 120.57,108.33 121.07,108.23 121.57,108.31 122.07,108.53 122.57,108.83 123.07,109.13 123.58,109.36 124.08,109.46 124.58,109.38 125.08,109.12 125.58,108.69 126.08,108.14 126.58,107.55 127.08,106.99 127.58,106.52 128.08,106.21 128.58,106.08 129.08,106.13 129.59,106.33 130.09,106.62 130.59,106.92 131.09,107.17 131.59,107.30 132.09,107.25 132.59,107.02 133.09,106.62 133.59,106.09 134.09,105.50 134.59,104.92 135.09,104.43 135.60,104.09 136.10,103.93 136.60,103.95 137.10,104.12 137.60,104.40 138.10,104.71 138.60,104.98" fill="none" stroke="#222" stroke-width="1.25" stroke-linejoin="round"/>
<polyline points="77.00,121.80 77.50,122.32 78.00,122.77 78.50,123.08 79.00,123.21 79.50,123.16 80.00,122.95 80.51,122.62 81.01,122.25 81.51,121.91 82.01,121.67 82.51,121.59 83.01,121.69 83.51,121.97 84.01,122.40 84.51,122.92 85.01,123.44 85.51,123.91 86.01,124.25 86.52,124.41 87.02,124.39 87.52,124.21 88.02,123.89 88.52,123.52 89.02,123.17 89.52,122.91 90.02,122.80 90.52,122.87 91.02,123.12 91.52,123.53 92.02,124.03 92.53,124.56 93.03,125.04 93.53,125.41 94.03,125.61 94.53,125.62 95.03,125.46 95.53,125.16 96.03,124.80 96.53,124.44 97.03,124.16 97.53,124.02 98.03,124.05 98.53,124.27 99.04,124.66 99.54,125.15 100.04,125.68 100.54,126.18 101.04,126.56 101.54,126.79 102.04,126.84 102.54,126.71 103.04,126.43 103.54,126.07 104.04,125.71 104.54,125.41 105.05,125.24 105.55,125.24 106.05,125.43 106.55,125.79 107.05,126.27 107.55,126.80 108.05,127.30 108.55,127.72 109.05,127.98 109.55,128.05 110.05,127.95 110.55,127.70 111.06,127.35 111.56,126.98 112.06,126.66 112.56,126.47 113.06,126.44 113.56,126.59 114.06,126.92 114.56,127.39 115.06,127.91 115.56,128.43 116.06,128.86 116.56,129.15 117.07,129.26 117.57,129.19 118.07,128.96 118.57,128.62 119.07,128.25 119.57,127.92 120.07,127.70 120.57,127.64 121.07,127.76 121.57,128.06 122.07,128.51 122.57,129.03 123.07,129.55 123.58,130.00 124.08,130.32 124.58,130.47 125.08,130.43 125.58,130.22 126.08,129.90 126.58,129.52 127.08,129.18 127.58,128.94 128.08,128.84 128.58,128.94 129.08,129.21 129.59,129.63 130.09,130.14 130.59,130.67 131.09,131.14 131.59,131.49 132.09,131.66 132.59,131.65 133.09,131.47 133.59,131.17 134.09,130.80 134.59,130.44 135.09,130.18 135.60,130.06 136.10,130.12 136.60,130.36 137.10,130.76 137.60,131.26 138.10,131.79 138.60,132.28" fill="none" stroke="#222" stroke-width="1.25" stroke-linejoin="round"/>
<polyline points="77.00,211.70 79.90,211.40 82.30,208.90 84.70,208.10 87.20,207.80 89.60,206.80 91.20,206.50 93.70,207.60 96.10,206.80 98.50,207.30 101.00,208.40 103.40,209.40 105.90,210.10 108.30,211.40 110.70,212.70 114.00,211.70 116.40,213.00 118.90,213.30 121.30,212.30 123.70,212.70 126.20,211.70 128.60,210.60 131.00,211.00 133.50,209.40 135.90,208.10 138.60,207.80" fill="none" stroke="#222" stroke-width="1.3" stroke-linejoin="round"/>
<polyline points="77.00,298.30 77.50,298.00 78.00,297.74 78.50,297.54 79.00,297.42 79.50,297.41 80.00,297.49 80.51,297.67 81.01,297.92 81.51,298.21 82.01,298.52 82.51,298.79 83.01,299.02 83.51,299.16 84.01,299.20 84.51,299.14 85.01,298.99 85.51,298.76 86.01,298.47 86.52,298.17 87.02,297.88 87.52,297.64 88.02,297.47 88.52,297.40 89.02,297.43 89.52,297.56 90.02,297.77 90.52,298.04 91.02,298.34 91.52,298.64 92.02,298.90 92.53,299.09 93.03,299.19 93.53,299.19 94.03,299.09 94.53,298.90 95.03,298.64 95.53,298.34 96.03,298.04 96.53,297.77 97.03,297.56 97.53,297.43 98.03,297.40 98.53,297.48 99.04,297.64 99.54,297.88 100.04,298.17 100.54,298.47 101.04,298.76 101.54,298.99 102.04,299.14 102.54,299.20 103.04,299.16 103.54,299.01 104.04,298.79 104.54,298.51 105.05,298.21 105.55,297.92 106.05,297.67 106.55,297.49 107.05,297.41 107.55,297.42 108.05,297.54 108.55,297.74 109.05,298.00 109.55,298.30 110.05,298.60 110.55,298.86 111.06,299.07 111.56,299.18 112.06,299.19 112.56,299.11 113.06,298.93 113.56,298.68 114.06,298.38 114.56,298.08 115.06,297.81 115.56,297.58 116.06,297.44 116.56,297.40 117.07,297.46 117.57,297.61 118.07,297.85 118.57,298.13 119.07,298.43 119.57,298.72 120.07,298.96 120.57,299.13 121.07,299.20 121.57,299.17 122.07,299.04 122.57,298.83 123.07,298.56 123.58,298.25 124.08,297.96 124.58,297.70 125.08,297.51 125.58,297.41 126.08,297.41 126.58,297.51 127.08,297.71 127.58,297.96 128.08,298.26 128.58,298.56 129.08,298.83 129.59,299.04 130.09,299.17 130.59,299.20 131.09,299.12 131.59,298.96 132.09,298.72 132.59,298.43 133.09,298.12 133.59,297.84 134.09,297.61 134.59,297.46 135.09,297.40 135.60,297.45 136.10,297.59 136.60,297.81 137.10,298.09 137.60,298.39 138.10,298.68 138.60,298.93" fill="none" stroke="#222" stroke-width="1.2" stroke-linejoin="round"/>
<polyline points="77.00,509.60 77.50,509.95 78.00,510.22 78.50,510.37 79.00,510.37 79.50,510.20 80.00,509.89 80.51,509.50 81.01,509.08 81.51,508.72 82.01,508.46 82.51,508.36 83.01,508.42 83.51,508.63 84.01,508.95 84.51,509.30 85.01,509.62 85.51,509.85 86.01,509.94 86.52,509.86 87.02,509.63 87.52,509.28 88.02,508.87 88.52,508.47 89.02,508.14 89.52,507.95 90.02,507.92 90.52,508.05 91.02,508.31 91.52,508.64 92.02,508.99 92.53,509.29 93.03,509.46 93.53,509.48 94.03,509.33 94.53,509.04 95.03,508.66 95.53,508.24 96.03,507.87 96.53,507.59 97.03,507.46 97.53,507.50 98.03,507.69 98.53,507.99 99.04,508.35 99.54,508.68 100.04,508.93 100.54,509.04 101.04,508.98 101.54,508.77 102.04,508.44 102.54,508.03 103.04,507.62 103.54,507.28 104.04,507.07 104.54,507.01 105.05,507.12 105.55,507.36 106.05,507.69 106.55,508.04 107.05,508.35 107.55,508.54 108.05,508.58 108.55,508.46 109.05,508.19 109.55,507.82 110.05,507.40 110.55,507.02 111.06,506.72 111.56,506.57 112.06,506.59 112.56,506.75 113.06,507.04 113.56,507.39 114.06,507.73 114.56,508.00 115.06,508.13 115.56,508.10 116.06,507.91 116.56,507.59 117.07,507.19 117.57,506.78 118.07,506.43 118.57,506.19 119.07,506.11 119.57,506.19 120.07,506.41 120.57,506.74 121.07,507.09 121.57,507.41 122.07,507.62 122.57,507.69 123.07,507.59 123.58,507.34 124.08,506.98 124.58,506.57 125.08,506.17 125.58,505.86 126.08,505.69 126.58,505.67 127.08,505.82 127.58,506.09 128.08,506.44 128.58,506.78 129.08,507.06 129.59,507.22 130.09,507.22 130.59,507.05 131.09,506.75 131.59,506.36 132.09,505.94 132.59,505.58 133.09,505.32 133.59,505.21 134.09,505.27 134.59,505.47 135.09,505.78 135.60,506.14 136.10,506.46 136.60,506.70 137.10,506.79 137.60,506.72 138.10,506.49 138.60,506.14" fill="none" stroke="#222" stroke-width="1.15" stroke-linejoin="round"/></g>
<path d="M139.1 6.2V104.8M139.1 131.3V544.3H45.2V6.2H139.1" fill="none" stroke="#858585" stroke-width="1.2"/>
<path d="M149.8 30.0H160.3" stroke="#962a37" stroke-width="1.25"/><path d="M145.4 30.0L150.2 27.7L150.2 32.3Z" fill="#962a37"/><path d="M149.8 122.1H160.3" stroke="#962a37" stroke-width="1.25"/><path d="M145.4 122.1L150.2 119.8L150.2 124.39999999999999Z" fill="#962a37"/><path d="M149.8 207.9H160.3" stroke="#962a37" stroke-width="1.25"/><path d="M145.4 207.9L150.2 205.6L150.2 210.20000000000002Z" fill="#962a37"/><path d="M149.8 297.9H160.3" stroke="#962a37" stroke-width="1.25"/><path d="M145.4 297.9L150.2 295.59999999999997L150.2 300.2Z" fill="#962a37"/><path d="M149.8 504.6H160.3" stroke="#962a37" stroke-width="1.25"/><path d="M145.4 504.6L150.2 502.3L150.2 506.90000000000003Z" fill="#962a37"/>
<rect x="306.90" y="206.90" width="24.10" height="16.20" fill="#a7a7a7" stroke="#8c8c8c" stroke-width="0.8"/><path d="M311.10 210.30l1.2 1.3l1.2-1.3" stroke="#8e8e8e" stroke-width="0.6" fill="none"/><path d="M317.70 210.30l1.2 1.3l1.2-1.3" stroke="#8e8e8e" stroke-width="0.6" fill="none"/><path d="M324.40 210.30l1.2 1.3l1.2-1.3" stroke="#8e8e8e" stroke-width="0.6" fill="none"/><path d="M313.80 214.30l1.2 1.3l1.2-1.3" stroke="#8e8e8e" stroke-width="0.6" fill="none"/><path d="M320.80 214.30l1.2 1.3l1.2-1.3" stroke="#8e8e8e" stroke-width="0.6" fill="none"/><path d="M311.10 218.30l1.2 1.3l1.2-1.3" stroke="#8e8e8e" stroke-width="0.6" fill="none"/><path d="M317.80 218.30l1.2 1.3l1.2-1.3" stroke="#8e8e8e" stroke-width="0.6" fill="none"/><path d="M324.80 218.30l1.2 1.3l1.2-1.3" stroke="#8e8e8e" stroke-width="0.6" fill="none"/><rect x="307.10" y="232.10" width="23.70" height="15.80" fill="#d9efee" stroke="#9fb3b3" stroke-width="0.8"/><path d="M309.20 237.30l1.4-3.2l1.4 3.2" stroke="#5f7373" stroke-width="0.6" fill="none"/><path d="M312.70 237.30l1.4-3.2l1.4 3.2" stroke="#5f7373" stroke-width="0.6" fill="none"/><path d="M325.60 237.30l1.4-3.2l1.4 3.2" stroke="#5f7373" stroke-width="0.6" fill="none"/><path d="M317.60 242.10l1.4-3.2l1.4 3.2" stroke="#5f7373" stroke-width="0.6" fill="none"/><path d="M324.90 242.10l1.4-3.2l1.4 3.2" stroke="#5f7373" stroke-width="0.6" fill="none"/><path d="M309.20 246.40l1.4-3.2l1.4 3.2" stroke="#5f7373" stroke-width="0.6" fill="none"/><path d="M313.00 246.40l1.4-3.2l1.4 3.2" stroke="#5f7373" stroke-width="0.6" fill="none"/><path d="M325.60 246.40l1.4-3.2l1.4 3.2" stroke="#5f7373" stroke-width="0.6" fill="none"/><path d="M320.00 235.70h2" stroke="#5f7373" stroke-width="0.5"/><path d="M311.40 240.50h2" stroke="#5f7373" stroke-width="0.5"/><path d="M320.00 244.30h2" stroke="#5f7373" stroke-width="0.5"/><path d="M320.00 245.40h2" stroke="#5f7373" stroke-width="0.5"/><rect x="307.00" y="258.90" width="24.00" height="16.00" fill="#c3c7c6" stroke="#939797" stroke-width="0.8"/><path d="M311.30 261.40l2.2 2.2M313.50 261.40l-2.2 2.2" stroke="#868c8b" stroke-width="0.55"/><path d="M318.10 261.40l2.2 2.2M320.30 261.40l-2.2 2.2" stroke="#868c8b" stroke-width="0.55"/><path d="M325.40 261.40l2.2 2.2M327.60 261.40l-2.2 2.2" stroke="#868c8b" stroke-width="0.55"/><path d="M314.90 265.90l2.2 2.2M317.10 265.90l-2.2 2.2" stroke="#868c8b" stroke-width="0.55"/><path d="M321.90 265.90l2.2 2.2M324.10 265.90l-2.2 2.2" stroke="#868c8b" stroke-width="0.55"/><path d="M310.90 270.40l2.2 2.2M313.10 270.40l-2.2 2.2" stroke="#868c8b" stroke-width="0.55"/><path d="M318.40 270.40l2.2 2.2M320.60 270.40l-2.2 2.2" stroke="#868c8b" stroke-width="0.55"/><path d="M324.90 270.40l2.2 2.2M327.10 270.40l-2.2 2.2" stroke="#868c8b" stroke-width="0.55"/><rect x="307.10" y="285.10" width="23.70" height="16.40" fill="#efefef" stroke="#8a8a8a" stroke-width="1"/><path d="M311.50 288.30l1 1.4l1-1.4" stroke="#8f8f8f" stroke-width="0.55" fill="none"/><path d="M316.00 289.70h1.8M316.90 288.80v1.8" stroke="#9a9a9a" stroke-width="0.5"/><path d="M320.40 288.10l1 1.4l1-1.4" stroke="#8f8f8f" stroke-width="0.55" fill="none"/><path d="M324.80 289.40h1.8M325.70 288.50v1.8" stroke="#9a9a9a" stroke-width="0.5"/><path d="M309.90 292.40l1 1.4l1-1.4" stroke="#8f8f8f" stroke-width="0.55" fill="none"/><path d="M315.40 293.90h1.8M316.30 293.00v1.8" stroke="#9a9a9a" stroke-width="0.5"/><path d="M320.90 292.20l1 1.4l1-1.4" stroke="#8f8f8f" stroke-width="0.55" fill="none"/><path d="M325.80 294.10h1.8M326.70 293.20v1.8" stroke="#9a9a9a" stroke-width="0.5"/><path d="M311.50 296.20l1 1.4l1-1.4" stroke="#8f8f8f" stroke-width="0.55" fill="none"/><path d="M315.20 298.00h1.8M316.10 297.10v1.8" stroke="#9a9a9a" stroke-width="0.5"/><path d="M320.00 295.90l1 1.4l1-1.4" stroke="#8f8f8f" stroke-width="0.55" fill="none"/><path d="M323.80 297.30h1.8M324.70 296.40v1.8" stroke="#9a9a9a" stroke-width="0.5"/><path d="M318.10 290.30l1 1.4l1-1.4" stroke="#8f8f8f" stroke-width="0.55" fill="none"/><path d="M322.70 291.10h1.8M323.60 290.20v1.8" stroke="#9a9a9a" stroke-width="0.5"/><rect x="307.30" y="312.10" width="23.80" height="16.00" fill="#f8f0c4" stroke="#a59d84" stroke-width="0.8"/><path d="M307.30 317.43h23.80M307.30 322.77h23.80" stroke="#b8ad88" stroke-width="0.7"/><rect x="310.70" y="314.17" width="1.2" height="1.2" fill="#3d3a30"/><rect x="318.70" y="314.17" width="1.2" height="1.2" fill="#3d3a30"/><rect x="326.90" y="314.17" width="1.2" height="1.2" fill="#3d3a30"/><rect x="314.80" y="319.50" width="1.2" height="1.2" fill="#3d3a30"/><rect x="322.90" y="319.50" width="1.2" height="1.2" fill="#3d3a30"/><rect x="310.30" y="324.83" width="1.2" height="1.2" fill="#3d3a30"/><rect x="318.20" y="324.83" width="1.2" height="1.2" fill="#3d3a30"/><rect x="326.50" y="324.83" width="1.2" height="1.2" fill="#3d3a30"/><rect x="307.30" y="339.80" width="24.00" height="15.90" fill="#eed891" stroke="#a8976a" stroke-width="0.8"/><path d="M307.30 345.10h24.00M307.30 350.40h24.00" stroke="#a8955e" stroke-width="0.7"/><ellipse cx="311.00" cy="342.45" rx="1.3" ry="0.7" fill="#7f7251"/><ellipse cx="319.00" cy="342.45" rx="1.3" ry="0.7" fill="#7f7251"/><ellipse cx="328.30" cy="342.45" rx="1.3" ry="0.7" fill="#7f7251"/><ellipse cx="314.50" cy="347.75" rx="1.3" ry="0.7" fill="#7f7251"/><ellipse cx="324.00" cy="347.75" rx="1.3" ry="0.7" fill="#7f7251"/><ellipse cx="311.00" cy="353.05" rx="1.3" ry="0.7" fill="#7f7251"/><ellipse cx="318.80" cy="353.05" rx="1.3" ry="0.7" fill="#7f7251"/><ellipse cx="328.00" cy="353.05" rx="1.3" ry="0.7" fill="#7f7251"/><rect x="307.80" y="367.50" width="23.90" height="16.20" fill="#bcbdc1" stroke="#7b7c80" stroke-width="0.8"/><path d="M307.80 372.90h23.90M307.80 378.30h23.90" stroke="#7b7c80" stroke-width="0.7"/><path d="M309.90 370.20h3.2" stroke="#838489" stroke-width="0.9"/><path d="M317.40 370.20h3.2" stroke="#838489" stroke-width="0.9"/><path d="M325.40 370.20h3.2" stroke="#838489" stroke-width="0.9"/><path d="M313.70 375.60h3.2" stroke="#838489" stroke-width="0.9"/><path d="M320.90 375.60h3.2" stroke="#838489" stroke-width="0.9"/><path d="M309.90 381.00h3.2" stroke="#838489" stroke-width="0.9"/><path d="M317.90 381.00h3.2" stroke="#838489" stroke-width="0.9"/><path d="M325.40 381.00h3.2" stroke="#838489" stroke-width="0.9"/><rect x="308.20" y="394.10" width="23.80" height="16.60" fill="#ffffff" stroke="#7a7a7a" stroke-width="0.8"/><path d="M308.20 396.18h23.80" stroke="#8a8a8a" stroke-width="0.6"/><path d="M308.20 398.25h23.80" stroke="#a8a8a8" stroke-width="0.6"/><path d="M308.20 400.33h23.80" stroke="#8a8a8a" stroke-width="0.6"/><path d="M308.20 402.40h23.80" stroke="#a8a8a8" stroke-width="0.6"/><path d="M308.20 404.48h23.80" stroke="#8a8a8a" stroke-width="0.6"/><path d="M308.20 406.55h23.80" stroke="#a8a8a8" stroke-width="0.6"/><path d="M308.20 408.62h23.80" stroke="#8a8a8a" stroke-width="0.6"/><rect x="309.00" y="422.10" width="23.70" height="16.60" fill="#e9e9e9" stroke="#7a7a7a" stroke-width="0.8"/><path d="M309.00 427.63h23.70M309.00 433.17h23.70" stroke="#6e6e6e" stroke-width="0.7"/><path d="M314.40 422.10v5.53M326.40 422.10v5.53M320.60 427.63v5.53M314.40 433.17v5.53M326.40 433.17v5.53" stroke="#6e6e6e" stroke-width="0.7"/><rect x="309.00" y="447.50" width="23.70" height="16.30" fill="#6f7b99" stroke="#4d566c" stroke-width="0.8"/><path d="M309.00 452.93h23.70M309.00 458.37h23.70" stroke="#4d566c" stroke-width="0.7"/><path d="M309.00 449.40h23.70" stroke="#8590ab" stroke-width="0.35"/><path d="M309.00 451.30h23.70" stroke="#8590ab" stroke-width="0.35"/><path d="M309.00 454.83h23.70" stroke="#8590ab" stroke-width="0.35"/><path d="M309.00 456.74h23.70" stroke="#8590ab" stroke-width="0.35"/><path d="M309.00 460.27h23.70" stroke="#8590ab" stroke-width="0.35"/><path d="M309.00 462.17h23.70" stroke="#8590ab" stroke-width="0.35"/><path d="M314.40 452.93l1.6 -5.43M327.00 452.93l1.6 -5.43M320.70 458.37l1.6 -5.43M313.70 463.80l1.6 -5.43M324.20 463.80l1.6 -5.43" stroke="#3d4558" stroke-width="0.6"/><rect x="309.20" y="473.30" width="23.50" height="16.40" fill="#f4e8c8" stroke="#8a7c62" stroke-width="0.8"/><path d="M309.20 478.77h23.50M309.20 484.23h23.50" stroke="#8a7c62" stroke-width="0.7"/><path d="M317.20 473.30v5.47M325.60 473.30v5.47M321.50 478.77v5.47M317.20 484.23v5.47M325.60 484.23v5.47" stroke="#8a7c62" stroke-width="0.7"/><path d="M311.70 476.03h2.6" stroke="#7a6c52" stroke-width="0.8"/><path d="M320.20 476.03h2.6" stroke="#7a6c52" stroke-width="0.8"/><path d="M327.70 476.03h2.6" stroke="#7a6c52" stroke-width="0.8"/><path d="M314.70 481.50h2.6" stroke="#7a6c52" stroke-width="0.8"/><path d="M325.20 481.50h2.6" stroke="#7a6c52" stroke-width="0.8"/><path d="M311.70 486.97h2.6" stroke="#7a6c52" stroke-width="0.8"/><path d="M320.20 486.97h2.6" stroke="#7a6c52" stroke-width="0.8"/><path d="M327.70 486.97h2.6" stroke="#7a6c52" stroke-width="0.8"/><rect x="310.20" y="501.10" width="24.00" height="16.00" fill="#c9d7ec" stroke="#56627c" stroke-width="0.8"/><path d="M310.20 506.43h24.00M310.20 511.77h24.00" stroke="#56627c" stroke-width="0.7"/><path d="M310.20 503.77h24.00M310.20 509.10h24.00M310.20 514.43h24.00" stroke="#8a97b3" stroke-width="0.45"/><path d="M318.50 501.10v16.00M326.50 501.10v16.00" stroke="#56627c" stroke-width="0.8"/><rect x="310.80" y="527.10" width="24.00" height="16.60" fill="#f4e4e8" stroke="#8a6f76" stroke-width="0.8"/><path d="M315.70 527.10v16.60M320.60 527.10v16.60M325.40 527.10v16.60M329.60 527.10v16.60M310.80 530.10h24.00M310.80 532.20h24.00M310.80 535.10h24.00M310.80 537.40h24.00M310.80 539.90h24.00M310.80 542.10h24.00" stroke="#9a7e86" stroke-width="0.6"/>
<text id="t_age" x="49.70" y="21.70" font-size="10.2" fill="#444" font-style="italic" textLength="24.60" lengthAdjust="spacingAndGlyphs">AGE</text>
<text id="t_lith" x="79.70" y="21.70" font-size="10.2" fill="#444" font-style="italic" textLength="57.20" lengthAdjust="spacingAndGlyphs">LITHOLOGY</text>
<text id="t_sea" x="165.00" y="34.60" font-size="10.0" fill="#962a37" font-style="italic" textLength="40.50" lengthAdjust="spacingAndGlyphs">Seafloor</text>
<text id="t_sm1" x="165.00" y="53.60" font-size="9.3" fill="#303030" textLength="65.50" lengthAdjust="spacingAndGlyphs">Shallow marine</text>
<text id="t_carb" x="166.00" y="66.60" font-size="9.3" fill="#303030" textLength="48.50" lengthAdjust="spacingAndGlyphs">Carbonates</text>
<text id="t_clay" x="166.00" y="79.70" font-size="9.3" fill="#303030" textLength="42.00" lengthAdjust="spacingAndGlyphs">Claystone</text>
<text id="t_refl" x="165.00" y="126.10" font-size="10.0" fill="#962a37" font-style="italic" textLength="54.00" lengthAdjust="spacingAndGlyphs">Reflector S</text>
<text id="t_sm2" x="165.00" y="145.10" font-size="9.3" fill="#303030" textLength="65.50" lengthAdjust="spacingAndGlyphs">Shallow marine</text>
<text id="t_layer" x="165.00" y="166.10" font-size="9.3" fill="#303030" textLength="80.50" lengthAdjust="spacingAndGlyphs">Layered evaporites</text>
<text id="t_ms1" x="165.00" y="181.50" font-size="9.3" fill="#303030" textLength="49.50" lengthAdjust="spacingAndGlyphs">Minor shale</text>
<text id="t_tops" x="165.00" y="206.50" font-size="10.0" fill="#962a37" font-style="italic" textLength="38.50" lengthAdjust="spacingAndGlyphs">Top-salt</text>
<text id="t_unc1" x="165.00" y="218.80" font-size="10.0" fill="#962a37" font-style="italic" textLength="63.00" lengthAdjust="spacingAndGlyphs">Unconformity</text>
<text id="t_anh" x="166.00" y="241.90" font-size="9.3" fill="#303030" textLength="40.00" lengthAdjust="spacingAndGlyphs">Anhydrite</text>
<text id="t_hal" x="165.00" y="256.20" font-size="9.3" fill="#303030" textLength="25.00" lengthAdjust="spacingAndGlyphs">Halite</text>
<text id="t_ms2" x="165.00" y="270.30" font-size="9.3" fill="#303030" textLength="49.50" lengthAdjust="spacingAndGlyphs">Minor shale</text>
<text id="t_bots" x="165.50" y="295.90" font-size="10.0" fill="#962a37" font-style="italic" textLength="54.00" lengthAdjust="spacingAndGlyphs">Bottom-salt</text>
<text id="t_unc2" x="165.00" y="307.60" font-size="10.0" fill="#962a37" font-style="italic" textLength="63.00" lengthAdjust="spacingAndGlyphs">Unconformity</text>
<text id="t_delta" x="165.00" y="339.50" font-size="9.3" fill="#303030" textLength="23.00" lengthAdjust="spacingAndGlyphs">Delta</text>
<text id="t_sm3" x="164.50" y="388.90" font-size="9.3" fill="#303030" textLength="66.00" lengthAdjust="spacingAndGlyphs">Shallow marine</text>
<text id="t_deep" x="166.50" y="434.60" font-size="9.3" fill="#303030" textLength="54.50" lengthAdjust="spacingAndGlyphs">Deep marine</text>
<text id="t_allu" x="165.50" y="481.20" font-size="9.3" fill="#303030" textLength="76.50" lengthAdjust="spacingAndGlyphs">Alluvial Lacustrine</text>
<text id="t_acou" x="165.50" y="508.10" font-size="10.0" fill="#962a37" font-style="italic" textLength="92.00" lengthAdjust="spacingAndGlyphs">Acoustic Basement</text>
<text id="t_arab" x="165.50" y="522.30" font-size="9.3" fill="#303030" textLength="90.00" lengthAdjust="spacingAndGlyphs">Arabian-Nubia shield</text>
<text id="t_gabb" x="165.50" y="533.40" font-size="9.3" fill="#303030" textLength="79.50" lengthAdjust="spacingAndGlyphs">Gabbros intrusions</text>
<text id="t_mant" x="165.50" y="543.70" font-size="9.3" fill="#303030" textLength="131.00" lengthAdjust="spacingAndGlyphs">Mantle-derived spinel lherzolite</text>
<text id="t_l_bas" x="336.00" y="217.40" font-size="7.8" fill="#333" textLength="21.50" lengthAdjust="spacing">Basalt</text>
<text id="t_l_spi" x="335.50" y="242.10" font-size="7.8" fill="#333" textLength="53.00" lengthAdjust="spacing">Spinel lherzolite</text>
<text id="t_l_gab" x="335.50" y="269.00" font-size="7.8" fill="#333" textLength="24.00" lengthAdjust="spacing">Gabbro</text>
<text id="t_l_ara" x="335.50" y="296.00" font-size="7.8" fill="#333" textLength="92.50" lengthAdjust="spacing">Arabian-Nubian shield rocks</text>
<text id="t_l_san" x="335.50" y="323.50" font-size="7.8" fill="#333" textLength="39.50" lengthAdjust="spacing">Sandstone</text>
<text id="t_l_con" x="335.50" y="350.50" font-size="7.8" fill="#333" textLength="51.50" lengthAdjust="spacing">Conglomerate</text>
<text id="t_l_mud" x="336.00" y="377.50" font-size="7.8" fill="#333" textLength="36.50" lengthAdjust="spacing">Mudstone</text>
<text id="t_l_sha" x="336.00" y="405.30" font-size="7.8" fill="#333" textLength="21.50" lengthAdjust="spacing">Shale</text>
<text id="t_l_lim" x="337.50" y="433.20" font-size="7.8" fill="#333" textLength="38.00" lengthAdjust="spacing">Limestone</text>
<text id="t_l_dol" x="337.50" y="458.20" font-size="7.8" fill="#333" textLength="33.00" lengthAdjust="spacing">Dolomite</text>
<text id="t_l_arg" x="337.50" y="484.00" font-size="7.8" fill="#333" textLength="77.00" lengthAdjust="spacing">Argillaceous Limestone</text>
<text id="t_l_anh" x="338.00" y="512.10" font-size="7.8" fill="#333" textLength="35.00" lengthAdjust="spacing">Anhydrite</text>
<text id="t_l_hal" x="338.50" y="539.10" font-size="7.8" fill="#333" textLength="24.50" lengthAdjust="spacing">Halite</text>
<text id="t_n0" x="39.00" y="36.60" font-size="8.6" fill="#444" textLength="5.00" lengthAdjust="spacingAndGlyphs">0</text>
<text id="t_n5" x="38.50" y="123.60" font-size="8.6" fill="#444" textLength="5.50" lengthAdjust="spacingAndGlyphs">5</text>
<text id="t_n10" x="35.00" y="207.00" font-size="8.6" fill="#444" textLength="9.50" lengthAdjust="spacingAndGlyphs">10</text>
<text id="t_n15" x="35.00" y="306.40" font-size="8.6" fill="#444" textLength="9.00" lengthAdjust="spacingAndGlyphs">15</text>
<text id="t_n20" x="34.50" y="421.60" font-size="8.6" fill="#444" textLength="9.50" lengthAdjust="spacingAndGlyphs">20</text>
<text id="t_n25" x="35.50" y="508.70" font-size="8.6" fill="#444" textLength="9.00" lengthAdjust="spacingAndGlyphs">25</text>
<text id="t_n30" x="35.50" y="521.50" font-size="8.6" fill="#444" textLength="8.00" lengthAdjust="spacingAndGlyphs">30</text>
<text id="t_plio" transform="translate(65.80,76.00) rotate(-90)" text-anchor="middle" font-size="11.8" fill="#303030" textLength="87.00" lengthAdjust="spacingAndGlyphs">Plio-Pleistocene</text>
<text id="t_mio" transform="translate(57.80,308.00) rotate(-90)" text-anchor="middle" font-size="11.6" fill="#303030" textLength="45.00" lengthAdjust="spacingAndGlyphs">Miocene</text>
<text id="t_upp" transform="translate(72.70,179.00) rotate(-90)" text-anchor="middle" font-size="11.3" fill="#303030" textLength="32.00" lengthAdjust="spacingAndGlyphs">Upper</text>
<text id="t_mid" transform="translate(72.80,302.75) rotate(-90)" text-anchor="middle" font-size="11.4" fill="#303030" textLength="34.50" lengthAdjust="spacingAndGlyphs">Middle</text>
<text id="t_low" transform="translate(72.70,419.50) rotate(-90)" text-anchor="middle" font-size="11.3" fill="#303030" textLength="32.00" lengthAdjust="spacingAndGlyphs">Lower</text>
<text id="t_oli" transform="translate(64.10,484.75) rotate(-90)" text-anchor="middle" font-size="10.3" fill="#303030" textLength="46.50" lengthAdjust="spacingAndGlyphs">Oligocene</text>
<text id="t_post" transform="translate(13.20,74.00) rotate(-90)" text-anchor="middle" font-size="10.8" fill="#303030" textLength="59.00" lengthAdjust="spacingAndGlyphs">POST-RIFT</text>
<text id="t_syn2" transform="translate(21.40,183.25) rotate(-90)" text-anchor="middle" font-size="10.8" fill="#303030" textLength="60.50" lengthAdjust="spacingAndGlyphs">SYN-RIFT 2</text>
<text id="t_syn1" transform="translate(22.80,396.50) rotate(-90)" text-anchor="middle" font-size="10.8" fill="#303030" textLength="60.00" lengthAdjust="spacingAndGlyphs">SYN-RIFT 1</text>
</svg>
</body></html>
